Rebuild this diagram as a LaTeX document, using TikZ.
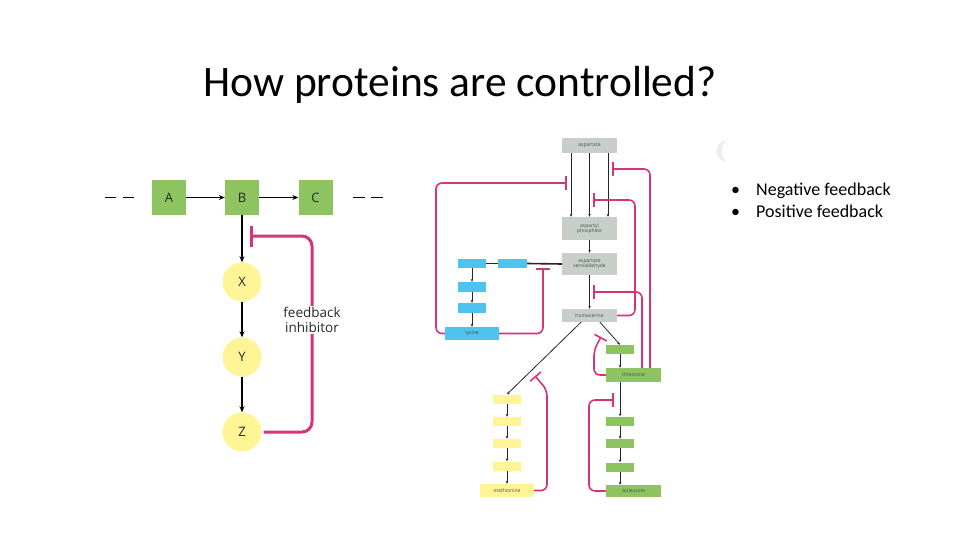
\documentclass[tikz,border=0pt]{standalone}
\usepackage{fontspec}
\setmainfont{Carlito}
\newfontfamily\osans{Open Sans}
\usetikzlibrary{arrows.meta}
\definecolor{gfill}{RGB}{141,196,96}
\definecolor{yfill}{RGB}{255,244,150}
\definecolor{grfill}{RGB}{200,207,203}
\definecolor{cfill}{RGB}{79,195,240}
\definecolor{pinkc}{RGB}{214,51,122}
\definecolor{txtc}{RGB}{40,40,40}
\tikzset{
  gbox/.style={rectangle, fill=gfill, minimum width=34pt, minimum height=34pt, inner sep=0pt, font=\osans\fontsize{13}{15}\selectfont, text=txtc},
  ycirc/.style={circle, fill=yfill, minimum size=39pt, inner sep=0pt, font=\osans\fontsize{13}{15}\selectfont, text=txtc},
  bigarr/.style={draw=black, line width=1.4pt, -{Stealth[length=6pt,width=5pt]}},
  biginh/.style={draw=pinkc, line width=3pt, rounded corners=10pt, -{Bar[width=21pt,line width=3pt]}},
  sbox/.style={rectangle, inner sep=0pt, font=\osans\fontsize{5}{5.5}\selectfont, text=black!70, align=center},
  grbox/.style={sbox, fill=grfill, minimum width=55pt},
  gnbox/.style={sbox, fill=gfill},
  ybox/.style={sbox, fill=yfill},
  cbox/.style={sbox, fill=cfill},
  smarr/.style={draw=black!85, line width=0.8pt, -{Stealth[length=3pt,width=2.6pt]}},
  smline/.style={draw=black!85, line width=1.6pt},
  sminh/.style={draw=pinkc, line width=1.6pt, rounded corners=6pt, -{Bar[width=14pt,line width=1.6pt]}},
  bullet/.style={font=\fontsize{18}{22}\selectfont, anchor=base west, inner sep=0pt},
}
\begin{document}
\begin{tikzpicture}[x=1pt,y=-1pt]
\useasboundingbox (0,0) rectangle (960,540);
\fill[white] (0,0) rectangle (960,540);

% title
\node[font=\fontsize{43.5}{50}\selectfont, anchor=base, inner sep=0pt] (title) at (460,97) {How proteins are controlled?};

% bullets
\node[bullet] (b1) at (731,195) {\textbullet\hspace{16pt}Negative feedback};
\node[bullet] (b2) at (731,217) {\textbullet\hspace{16pt}Positive feedback};
% faint artefact
\fill[black!7] (727,140) .. controls (713,142) and (713,160) .. (727,162) .. controls (720,157) and (720,145) .. (727,140);

% ---------------- left diagram ----------------
\node[gbox] (A) at (169,197.5) {A};
\node[gbox] (B) at (242,197.5) {B};
\node[gbox] (C) at (315.5,197.5) {C};
\node[ycirc] (X) at (242,282) {X};
\node[ycirc] (Y) at (242,357) {Y};
\node[ycirc] (Z) at (242,432) {Z};

\coordinate (dl1) at (105,197.5); \coordinate (dl2) at (135,197.5);
\coordinate (dr1) at (353,197.5); \coordinate (dr2) at (383,197.5);
\draw[line width=1.5pt, dash pattern=on 11pt off 7pt] (dl1) -- (dl2);
\draw[line width=1.5pt, dash pattern=on 12pt off 6pt] (dr1) -- (dr2);

\draw[bigarr] (A) -- (B);
\draw[bigarr] (B) -- (C);
\draw[bigarr] (B) -- (X);
\draw[bigarr] (X) -- (Y);
\draw[bigarr] (Y) -- (Z);

\coordinate (fbend) at (250,236);
\draw[biginh] ([xshift=2pt]Z.east) -- (312,432) -- (312,236) -- (fbend);
\node[fill=white, inner sep=1pt, font=\osans\fontsize{13.5}{15}\selectfont, text=txtc, align=center] (fbl) at (312,320) {feedback\\inhibitor};

% ---------------- right diagram ----------------
\node[grbox, minimum height=15pt] (asp) at (589.5,145.5) {aspartate};
\node[grbox, minimum height=23pt] (aph) at (589.5,228.5) {aspartyl\\phosphate};
\node[grbox, minimum height=22pt] (asa) at (589.5,264) {aspartate\\semialdehyde};
\node[grbox, minimum height=13pt] (hom) at (589.5,315.5) {homoserine};

\node[gnbox, minimum width=28pt, minimum height=9pt] (t1) at (620,349.5) {};
\node[gnbox, minimum width=55pt, minimum height=14pt] (thr) at (633.5,375) {threonine};
\node[gnbox, minimum width=28pt, minimum height=9pt] (i1) at (620,421) {};
\node[gnbox, minimum width=28pt, minimum height=9pt] (i2) at (620,443.5) {};
\node[gnbox, minimum width=28pt, minimum height=9pt] (i3) at (620,467) {};
\node[gnbox, minimum width=55pt, minimum height=12pt] (ile) at (633.5,491) {isoleucine};

\node[ybox, minimum width=28pt, minimum height=9pt] (m1) at (507,399) {};
\node[ybox, minimum width=28pt, minimum height=9pt] (m2) at (507,421.5) {};
\node[ybox, minimum width=28pt, minimum height=9pt] (m3) at (507,443.5) {};
\node[ybox, minimum width=28pt, minimum height=9pt] (m4) at (507,466) {};
\node[ybox, minimum width=54pt, minimum height=13pt] (met) at (507,490.5) {methionine};

\node[cbox, minimum width=28pt, minimum height=9pt] (l1) at (472,263.5) {};
\node[cbox, minimum width=29pt, minimum height=9pt] (l2) at (512.5,263.5) {};
\node[cbox, minimum width=28pt, minimum height=10pt] (l3) at (472,287) {};
\node[cbox, minimum width=28pt, minimum height=10pt] (l4) at (472,308) {};
\node[cbox, minimum width=54pt, minimum height=13pt] (lys) at (472,333.5) {lysine};

% black arrows
\draw[smarr] ([xshift=-18.5pt]asp.south) -- ([xshift=-18.5pt]aph.north);
\draw[smarr] (asp.south) -- (aph.north);
\draw[smarr] ([xshift=18.5pt]asp.south) -- ([xshift=18.5pt]aph.north);
\draw[smarr] (aph) -- (asa);
\draw[smarr, line width=1.3pt] (asa) -- (hom);
\draw[smarr] ([xshift=10.5pt]hom.south) -- (t1.north);
\draw[smarr] (t1.south) -- (t1.south |- thr.north);
\draw[smarr] (thr.south -| i1) -- (i1.north);
\draw[smarr] (i1) -- (i2);
\draw[smarr] (i2) -- (i3);
\draw[smarr] (i3.south) -- (i3.south |- ile.north);
\draw[smarr] ([xshift=-8.5pt]hom.south) -- (m1.north);
\draw[smarr] (m1) -- (m2);
\draw[smarr] (m2) -- (m3);
\draw[smarr] (m3) -- (m4);
\draw[smarr] (m4) -- (met);
\draw[smline] (asa.west) -- (l2.east);
\draw[smline] (l2.west) -- (l1.east);
\draw[smarr] (l1) -- (l3);
\draw[smarr] (l3) -- (l4);
\draw[smarr] (l4) -- (lys);

% inhibitor end points
\coordinate (ilys1) at (567,183);
\coordinate (ilys2) at (543,268);
\coordinate (ihom) at (593,200);
\coordinate (ithra) at (593,292);
\coordinate (ithrb) at (612,169);
\coordinate (ithrc) at (601,337);
\coordinate (iile) at (614,400);
\coordinate (imet) at (535,376);

% pink inhibitors
\draw[sminh] (lys.west) -- (436,333.5) -- (436,183) -- (ilys1);
\draw[sminh] (lys.east) -- (543,333.5) -- (ilys2);
\draw[sminh] (hom.east) -- (635,315.5) -- (635,200) -- (ihom);
\draw[sminh] ([xshift=8.5pt]thr.north) -- (642,292) -- (ithra);
\draw[sminh] ([xshift=16.5pt]thr.north) -- (650,169) -- (ithrb);
\draw[sminh] (thr.west) -- (594,375) -- (594,350) -- (ithrc);
\draw[sminh] (ile.west) -- (589,491) -- (589,400) -- (iile);
\draw[sminh] (met.east) -- (547,490.5) -- (547,390) -- (imet);
\end{tikzpicture}
\end{document}
